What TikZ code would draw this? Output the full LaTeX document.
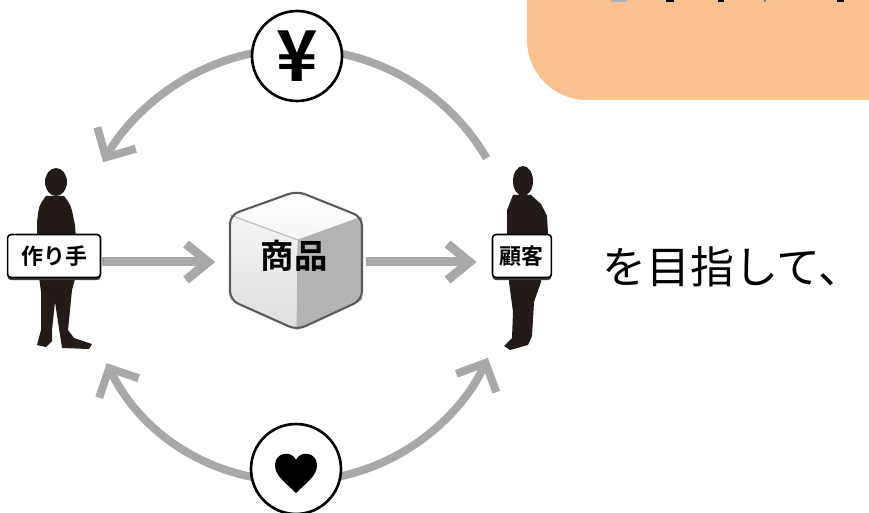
\documentclass[tikz,border=0pt]{standalone}
\usepackage{fontspec}
\newfontfamily\jp{Noto Sans CJK JP}[BoldFont={Noto Sans CJK JP Bold}]
\usetikzlibrary{arrows.meta,positioning,shadows}
\definecolor{peach}{HTML}{F9C18F}
\definecolor{flowgray}{HTML}{A8A8A8}
\definecolor{ink}{HTML}{231B17}
\definecolor{faceleft}{HTML}{DEDEDE}
\definecolor{faceright}{HTML}{B3B3B3}
\definecolor{edgegray}{HTML}{5A5A5A}

\begin{document}
\begin{tikzpicture}[x=0.02cm,y=-0.02cm,node distance=2cm,on grid,
    flow/.style={draw=flowgray,line width=0.16cm,-{Straight Barb[length=0.44cm,width=0.88cm]}},
    hflow/.style={draw=flowgray,line width=0.18cm,-{Straight Barb[length=0.44cm,width=0.72cm]}},
    tag/.style={draw,fill=white,rounded corners=2pt,line width=0.9pt,inner sep=0pt,
        minimum height=0.86cm,font=\jp\bfseries\fontsize{12.5}{12.5}\selectfont,
        drop shadow={shadow xshift=0pt,shadow yshift=-1.5pt,fill=black!75,opacity=1}},
    coin/.style={circle,draw,fill=white,line width=1.5pt,minimum size=1.8cm,inner sep=0pt},
    person/.style={fill=ink}]
\useasboundingbox (0,0) rectangle (869,513);
\clip (0,0) rectangle (869,513);

% orange panel, top right
\fill[peach,rounded corners=1.2cm] (527,-100) rectangle (960,100);
\fill[gray!60] (611,0) rectangle (627,2);
\fill[black] (666,0) rectangle (674,2.5);
\fill[black] (718,0) rectangle (724,2.5);
\fill[gray] (764,0) rectangle (766,2);
\fill[black] (837,0) rectangle (844,2.5);

% maker silhouette
\fill[person] (56,182) ellipse[x radius=11,y radius=14];
\fill[person] (46,196) -- (64,196) .. controls (71,205) .. (75,225) -- (78,268)
    -- (72,290) -- (68,330) -- (74,338) -- (92,344) -- (89,349) -- (62,348)
    -- (58,322) -- (55,302) -- (52,330) -- (52,341) -- (46,347) -- (37,345)
    -- (41,330) -- (41,292) -- (37,262) -- (37,222) .. controls (39,205) .. (46,196) -- cycle;

% customer silhouette
\fill[person] (523,181) ellipse[x radius=10,y radius=15];
\fill[person] (513,195) -- (531,195) -- (541,204) -- (547,216) -- (548,233)
    -- (542,242) -- (541,282) -- (534,302) -- (532,336) -- (528,345) -- (510,350)
    -- (504,346) -- (512,338) -- (513,312) -- (509,282) -- (507,242) -- (507,210) -- cycle;

% money and thanks loops
\coordinate (hub) at (296,270);
\draw[flow] (hub) ++(-30.4:221) coordinate (payfrom)
    arc[start angle=-30.4,end angle=-150.8,radius=221] coordinate (payto);
\draw[flow,{Straight Barb[length=0.44cm,width=0.88cm]}-{Straight Barb[length=0.44cm,width=0.88cm]}]
    (hub) ++(153.8:211) coordinate (thankl)
    arc[start angle=153.8,end angle=24.6,radius=211] coordinate (thankr);
\node[coin] (yen) at (297,56) {\jp\bfseries\fontsize{40}{40}\selectfont ¥};
\node[coin] (heart) at (296,469) {};
\begin{scope}[shift={(heart.center)}]
  \fill (0,24) .. controls (-11,13) and (-21,7) .. (-21,-4)
      .. controls (-21,-17) and (-4,-19) .. (0,-9)
      .. controls (4,-19) and (21,-17) .. (21,-4)
      .. controls (21,7) and (11,13) .. (0,24) -- cycle;
\end{scope}

% the goods cube
\coordinate (cT) at (297,191);
\coordinate (cUR) at (362,217);
\coordinate (cLR) at (362,300);
\coordinate (cB) at (297,330);
\coordinate (cLL) at (230,300);
\coordinate (cUL) at (230,215);
\coordinate (cC) at (298,240);
\shade[top color=white,bottom color=gray!8] (cT) -- (cUR) -- (cC) -- (cUL) -- cycle;
\shade[top color=gray!8,bottom color=faceleft] (cUL) -- (cC) -- (cB) -- (cLL) -- cycle;
\fill[faceright] (cC) -- (cUR) -- (cLR) -- (cB) -- cycle;
\draw[gray!60,line width=0.5pt] (cUL) -- (cC) -- (cUR) (cC) -- (cB);
\draw[edgegray,line width=1.2pt,rounded corners=5pt]
    (cT) -- (cUR) -- (cLR) -- (cB) -- (cLL) -- (cUL) -- cycle;
\node[font=\jp\bfseries\fontsize{19}{19}\selectfont,minimum width=2.74cm] (goods) at (294,256) {商品};

% name tags
\node[tag,minimum width=1.86cm,left=4.8cm of goods] (maker) {作り手};
\node[tag,minimum width=1.18cm,right=4.56cm of goods] (customer) {顧客};

\draw[hflow,shorten >=0.2cm] ([yshift=-0.12cm]maker.east) -- ([yshift=-0.12cm]maker.east -| goods.west);
\draw[hflow,shorten <=0.06cm,shorten >=0.3cm] ([yshift=-0.12cm]goods.east) -- ([yshift=-0.12cm]goods.east -| customer.west);

\node[font=\jp\fontsize{25}{25}\selectfont,anchor=west,inner sep=0pt] (goal) at (602,267) {を目指して、};
\end{tikzpicture}
\end{document}
